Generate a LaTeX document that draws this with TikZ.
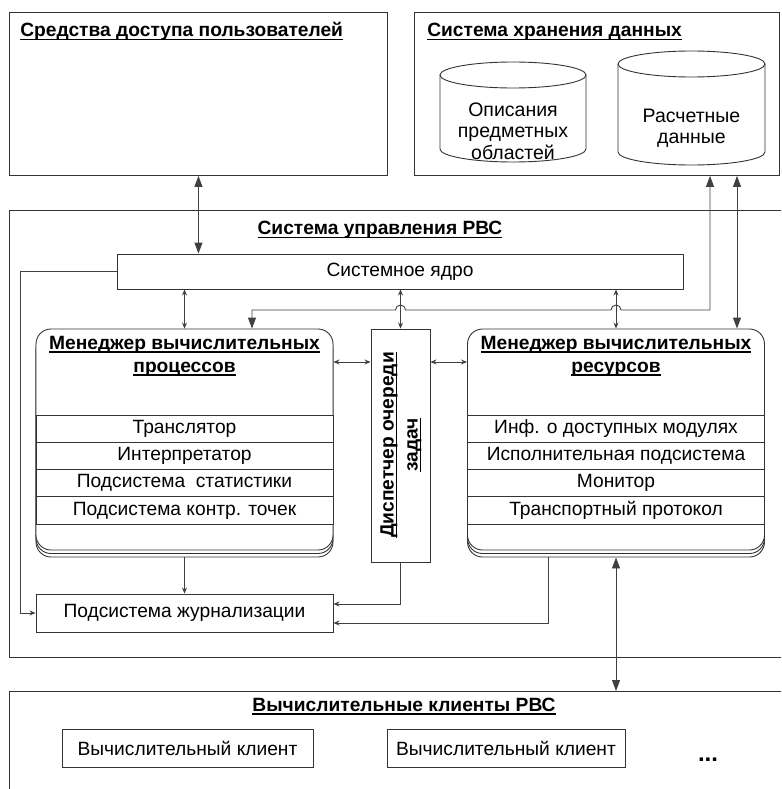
\documentclass[tikz,border=0pt]{standalone}
\usepackage{fontspec}
\setmainfont{Liberation Sans}
\usetikzlibrary{arrows.meta,calc,positioning,shadows}
\newcommand{\uln}[1]{\setbox0\hbox{#1}\rlap{\vrule height -2.2pt depth 3.5pt width \wd0}\box0}

\begin{document}
\begin{tikzpicture}[x=1pt, y=-1pt, semithick]
  \tikzstyle{frame}=[draw=black!80, line width=0.9pt]
  \tikzstyle{box}=[frame, rectangle, inner sep=0pt, fill=white, font=\fontsize{19.2}{22}\selectfont]
  \tikzstyle{mgr}=[box, rounded corners=15pt, minimum width=297pt, minimum height=221pt, double copy shadow={shadow xshift=0pt, shadow yshift=-3.5pt}]
  \tikzstyle{row}=[box, minimum width=297pt, minimum height=27.25pt]
  \tikzstyle{ttl}=[inner sep=0pt, align=center, font=\bfseries\fontsize{19.2}{23}\selectfont]
  \tikzstyle{dbtxt}=[inner sep=0pt, align=center, font=\fontsize{19.5}{21.5}\selectfont]
  \tikzstyle{conn}=[draw=black!75, line width=0.9pt]
  \tikzstyle{sm}=[conn, {Stealth[length=6pt,width=5pt]}-{Stealth[length=6pt,width=5pt]}]
  \tikzstyle{sm1}=[conn, -{Stealth[length=6pt,width=5pt]}]
  \tikzstyle{big}=[conn, {Triangle[length=11pt,width=8pt]}-{Triangle[length=11pt,width=8pt]}]
  \useasboundingbox (0,0) rectangle (781,789);

  \node[box, minimum width=378pt, minimum height=163pt, anchor=north west] (users) at (9,12) {};
  \node[ttl, anchor=base west] (users-t) at (20,37) {\uln{Средства доступа пользователей}};

  \node[box, minimum width=365pt, minimum height=163pt, anchor=north west] (store) at (414,12) {};
  \node[ttl, anchor=base west] (store-t) at (427,37) {\uln{Система хранения данных}};
  \draw[frame] (440,75) -- (440,149) arc[start angle=180, end angle=0, x radius=73, y radius=13] -- (586,75);
  \draw[frame] (513,75) ellipse[x radius=73, y radius=13];
  \node[dbtxt] (db1) at (513,131) {Описания\\предметных\\областей};
  \draw[frame] (618,64) -- (618,152) arc[start angle=180, end angle=0, x radius=73.5, y radius=13] -- (765,64);
  \draw[frame] (691.5,64) ellipse[x radius=73.5, y radius=13];
  \node[dbtxt] (db2) at (691.5,128) {Расчетные\\данные};

  \draw[frame] (781,210) -- (9,210) -- (9,657) -- (781,657);
  \node[ttl] (ctl-t) at (380,230) {\uln{Система управления РВС}};
  \node[box, minimum width=566pt, minimum height=35pt] (core) at (400,271.5) {Системное ядро};

  \node[mgr] (procman) at (184.5,439.5) {};
  \node[ttl] (procman-t) at (184.5,356) {\uln{Менеджер вычислительных}\\\uln{процессов}};
  \foreach \txt [count=\i] in {Транслятор, Интерпретатор, Подсистема\ \ статистики, Подсистема контр. точек}
    \node[row] (pr\i) at (184.5,{401.4+27.25*\i}) {\txt};

  \node[box, minimum width=59pt, minimum height=233pt] (disp) at (400.5,445.5) {};
  \node[ttl, rotate=90, font=\bfseries\fontsize{19.2}{24}\selectfont] (disp-t) at (401,445) {\uln{Диспетчер очереди}\\\uln{задач}};

  \node[mgr] (resman) at (616,439.5) {};
  \node[ttl] (resman-t) at (616,356) {\uln{Менеджер вычислительных}\\\uln{ресурсов}};
  \foreach \txt [count=\i] in {Инф. о доступных модулях, Исполнительная подсистема, Монитор, Транспортный протокол}
    \node[row] (rs\i) at (616,{401.4+27.25*\i}) {\txt};

  \node[box, minimum width=297pt, minimum height=38pt] (journal) at (184.5,613) {Подсистема журнализации};

  \draw[frame] (781,691) -- (9,691) -- (9,789);
  \coordinate (cl) at (9,691);
  \node[ttl, anchor=base] (cli-t) at (404,711) {\uln{Вычислительные клиенты РВС}};
  \node[box, minimum width=251pt, minimum height=38pt] (client1) at (187.5,748) {Вычислительный клиент};
  \node[box, minimum width=238pt, minimum height=38pt] (client2) at (506,748) {Вычислительный клиент};
  \node[ttl, anchor=base, font=\bfseries\fontsize{24}{24}\selectfont] (dots) at (708,761) {...};

  \coordinate (sa) at (710,310);
  \coordinate (pa) at (252,310);
  \coordinate (sb) at (737,0);
  \coordinate (mid) at (0,362);
  \coordinate (lj) at (20,0);
  \coordinate (rj) at (548,0);

  \draw[big] (users.south) -- (users.south |- core.north);
  \draw[sm] (procman.north |- core.south) -- (procman.north);
  \draw[sm] (disp.north |- core.south) -- (disp.north);
  \draw[sm] (resman.north |- core.south) -- (resman.north);
  \draw[big] (sa |- store.south) -- (sa) -- ([xshift=5pt]resman.north |- sa) arc[start angle=0, end angle=-180, radius=5]
    -- ([xshift=5pt]disp.north |- sa) arc[start angle=0, end angle=-180, radius=5] -- (pa) -- (pa |- procman.north);
  \draw[big] (sb |- store.south) -- (sb |- resman.north);
  \draw[sm] (procman.east |- mid) -- (disp.west |- mid);
  \draw[sm] (disp.east |- mid) -- (resman.west |- mid);
  \draw[sm1] (core.west) -| (lj |- journal.west) -- (journal.west);
  \draw[sm1] ([yshift=-7pt]procman.south) -- (journal.north);
  \draw[sm1] (disp.south) |- ([yshift=9pt]journal.east);
  \draw[sm1] ([yshift=-7pt]resman.south -| rj) |- ([yshift=-10pt]journal.east);
  \draw[big] ([yshift=-7pt]resman.south) -- (resman.south |- cl);
\end{tikzpicture}
\end{document}
